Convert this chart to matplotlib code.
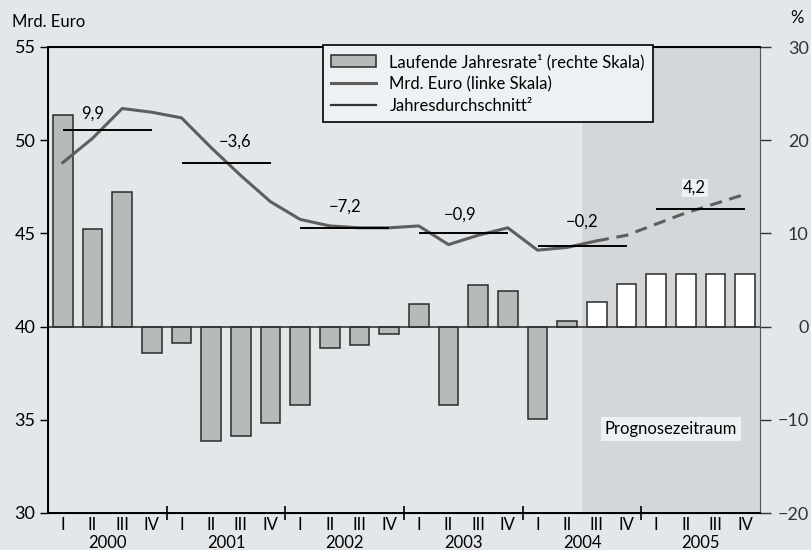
import numpy as np
import matplotlib
matplotlib.use("Agg")
import matplotlib.pyplot as plt
import matplotlib.transforms as mtransforms
from matplotlib.patches import Patch
from matplotlib.lines import Line2D

plt.rcParams['font.family'] = ['Lato', 'DejaVu Sans']

# Daten
jahre = ["2000", "2001", "2002", "2003", "2004", "2005"]
quartale = ["I", "II", "III", "IV"] * 6
jahresrate = [22.7, 10.5, 14.4, -2.8, -1.8, -12.3, -11.7, -10.3,
              -8.4, -2.3, -2.0, -0.8, 2.4, -8.4, 4.5, 3.8,
              -9.9, 0.6, 2.6, 4.6, 5.6, 5.6, 5.6, 5.6]
mrd_euro = [48.8, 50.1, 51.7, 51.5, 51.2, 49.6, 48.1, 46.7,
            45.75, 45.4, 45.3, 45.3, 45.4, 44.4, 44.9, 45.3,
            44.1, 44.25, 44.6, 44.9, 45.5, 46.1, 46.6, 47.1]
jahresdurchschnitt = [50.55, 48.8, 45.3, 45.0, 44.35, 46.3]
durchschnitt_labels = ["9,9", "\u22123,6", "\u22127,2", "\u22120,9", "\u22120,2", "4,2"]
rechts_ticks = [-20, -10, 0, 10, 20, 30]
links_ticks = [30, 35, 40, 45, 50, 55]
prognose_ab = 18  # erstes Prognosequartal (III/2004)

bg = "#e3e7ea"
shade = "#d3d7da"
barfill = "#b6bab9"

fig = plt.figure(figsize=(8.12, 5.5), dpi=100, facecolor=bg)
ax = fig.add_axes([48/812, 1-513/550, 712/812, 466/550])
ax2 = ax.twinx()

x = np.arange(len(quartale))
ax.set_xlim(-0.5, 23.5)
ax.set_ylim(30, 55)
ax2.set_ylim(-20, 30)

# ax (Linien) liegt ueber ax2 (Balken)
ax.set_zorder(ax2.get_zorder() + 1)
ax.patch.set_visible(False)
ax2.patch.set_visible(True)
ax2.set_facecolor(bg)

# Prognosezeitraum
ax2.axvspan(prognose_ab - 0.5, 23.5, color=shade, zorder=0, lw=0)

# Balken (rechte Skala)
farben = [barfill if i < prognose_ab else "white" for i in x]
ax2.bar(x, jahresrate, width=0.66, color=farben, edgecolor="#2a2a2a", lw=1.1, zorder=2)
ax2.axhline(0, color="#333333", lw=1.2, zorder=3)

# Linie Mrd. Euro (linke Skala)
ax.plot(x[:prognose_ab + 1], mrd_euro[:prognose_ab + 1], color="#5e5e5e", lw=2.2, zorder=4)
ax.plot(x[prognose_ab:], mrd_euro[prognose_ab:], color="#5e5e5e", lw=2.2,
        dashes=(4, 2.5), zorder=4)

# Jahresdurchschnitt
label_pos = [(1.0, 51.0), (5.8, 49.5), (9.5, 46.0), (13.4, 45.6), (17.5, 45.2), (21.3, 47.0)]
for j, (avg, lab) in enumerate(zip(jahresdurchschnitt, durchschnitt_labels)):
    ax.hlines(avg, 4*j, 4*j + 3, color="black", lw=1.4, zorder=5)
    tx, ty = label_pos[j]
    kw = {}
    if j == 5:
        kw = dict(bbox=dict(facecolor="#eef1f3", edgecolor="none", pad=1))
    ax.text(tx, ty, lab, ha="center", va="bottom", fontsize=12, zorder=6, **kw)

ax.text(20.5, 34.5, "Prognosezeitraum", ha="center", va="center", fontsize=12,
        bbox=dict(facecolor="#eef1f3", edgecolor="none", pad=3), zorder=6)

# Achsen
ax.set_yticks(links_ticks)
ax.tick_params(axis="y", direction="out", length=6, width=1, labelsize=13, pad=3)
ax2.set_yticks(rechts_ticks)
ax2.set_yticklabels([f"{v}".replace("-", "\u2212") for v in rechts_ticks], ha="right")
ax2.tick_params(axis="y", direction="out", length=8, width=1, labelsize=13, pad=27,
                colors="#333333")

ax.set_xticks(x)
ax.set_xticklabels(quartale, fontsize=12)
ax.tick_params(axis="x", length=0, pad=3)
ax.set_xticks(np.arange(3.5, 23, 4), minor=True)
ax.tick_params(axis="x", which="minor", direction="inout", length=10, width=1.2)

# Jahreszahlen unter den Quartalen (x in Daten, y in Figurenkoordinaten)
jahr_trans = mtransforms.blended_transform_factory(ax.transData, fig.transFigure)
for j, jahr in enumerate(jahre):
    ax.text(4*j + 1.5, 1 - 548/550, jahr, transform=jahr_trans,
            ha="center", va="baseline", fontsize=12)

for s in ["left", "top", "bottom"]:
    ax.spines[s].set_linewidth(1.4)
ax2.spines["right"].set_color("#555555")
ax.spines["right"].set_visible(False)

fig.text(12/812, 1-22/550, "Mrd. Euro", ha="left", va="center", fontsize=12)
fig.text(797/812, 1-18/550, "%", ha="center", va="center", fontsize=12)

# Legende
handles = [Patch(facecolor=barfill, edgecolor="#2a2a2a", lw=1.1),
           Line2D([], [], color="#5e5e5e", lw=2.2),
           Line2D([], [], color="#333333", lw=1.6)]
labels = ["Laufende Jahresrate\u00b9 (rechte Skala)", "Mrd. Euro (linke Skala)",
          "Jahresdurchschnitt\u00b2"]
leg = ax.legend(handles, labels, loc="upper left", bbox_to_anchor=(0.386, 1.004),
                borderaxespad=0, fontsize=12, frameon=True, fancybox=False, framealpha=1,
                facecolor="#eef1f3", edgecolor="black", handlelength=2.7,
                labelspacing=0.35, borderpad=0.5, handletextpad=0.8)
leg.get_frame().set_linewidth(1.2)
leg.set_zorder(10)

fig.savefig("out.png", dpi=100, facecolor=bg)
